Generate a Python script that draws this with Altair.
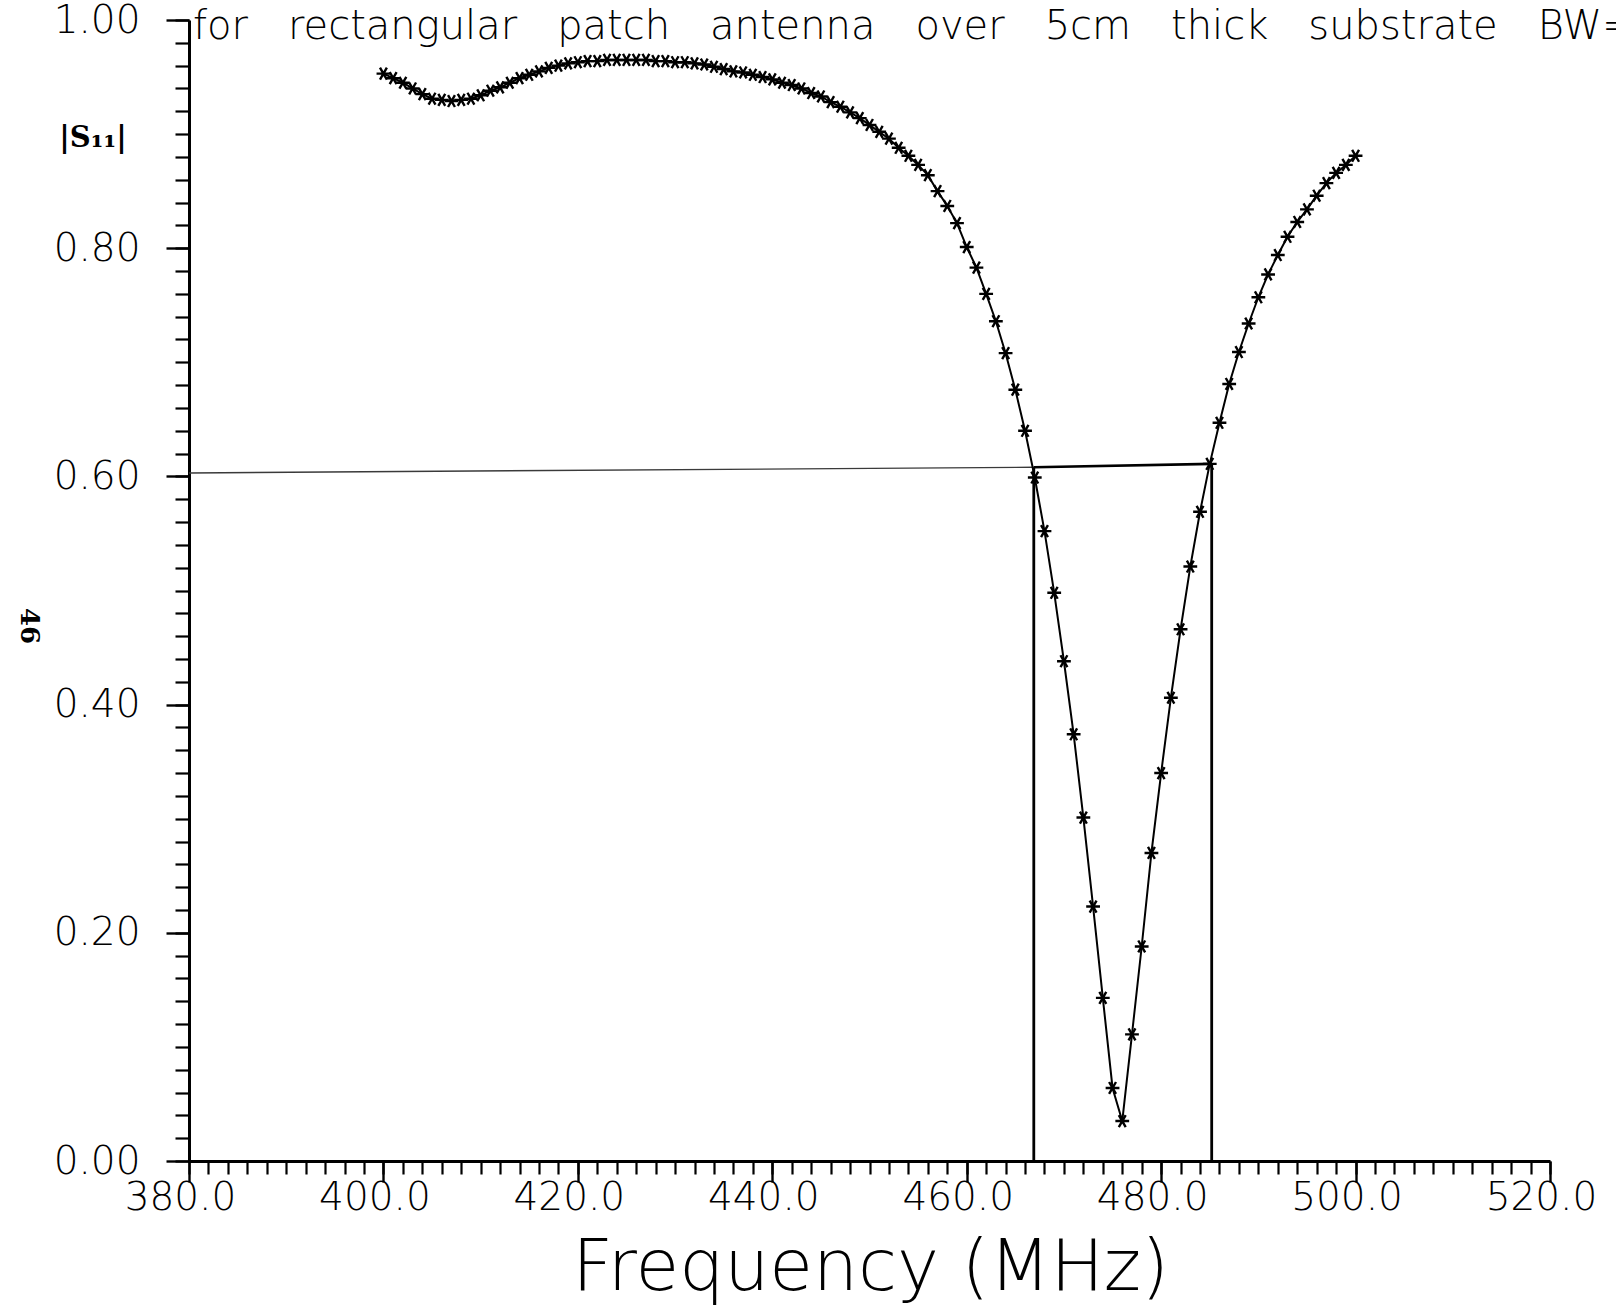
import altair as alt
import pandas as pd

# Reflection coefficient magnitude |S11| sampled every 1 MHz
freq_mhz = [
    400, 401, 402, 403, 404, 405, 406, 407, 408, 409,
    410, 411, 412, 413, 414, 415, 416, 417, 418, 419,
    420, 421, 422, 423, 424, 425, 426, 427, 428, 429,
    430, 431, 432, 433, 434, 435, 436, 437, 438, 439,
    440, 441, 442, 443, 444, 445, 446, 447, 448, 449,
    450, 451, 452, 453, 454, 455, 456, 457, 458, 459,
    460, 461, 462, 463, 464, 465, 466, 467, 468, 469,
    470, 471, 472, 473, 474, 475, 476, 477, 478, 479,
    480, 481, 482, 483, 484, 485, 486, 487, 488, 489,
    490, 491, 492, 493, 494, 495, 496, 497, 498, 499,
    500,
]
s11_mag = [
    0.953, 0.949, 0.945, 0.940, 0.935, 0.931, 0.930, 0.929, 0.930, 0.931,
    0.934, 0.938, 0.941, 0.945, 0.949, 0.952, 0.955, 0.958, 0.960, 0.962,
    0.963, 0.964, 0.964, 0.965, 0.965, 0.965, 0.965, 0.965, 0.964, 0.964,
    0.963, 0.963, 0.962, 0.961, 0.959, 0.957, 0.955, 0.954, 0.952, 0.950,
    0.948, 0.945, 0.943, 0.940, 0.936, 0.933, 0.928, 0.924, 0.919, 0.914,
    0.908, 0.902, 0.896, 0.888, 0.881, 0.873, 0.864, 0.850, 0.837, 0.822,
    0.801, 0.783, 0.760, 0.736, 0.708, 0.676, 0.640, 0.599, 0.552, 0.498,
    0.438, 0.374, 0.301, 0.223, 0.143, 0.064, 0.035, 0.111, 0.188, 0.270,
    0.340, 0.406, 0.466, 0.521, 0.569, 0.611, 0.647, 0.681, 0.709, 0.734,
    0.757, 0.777, 0.794, 0.810, 0.823, 0.834, 0.846, 0.857, 0.866, 0.873,
    0.881,
]

# Bandwidth construction: |S11| = 0.6 level and the two band edges
level_freq = [380.0, 466.9]
level_val = [0.603, 0.608]
band_freq = [466.9, 485.2]
band_val = [0.608, 0.611]

x_major = [380, 400, 420, 440, 460, 480, 500, 520]
x_minor = list(range(380, 521, 2))
y_major = [0.0, 0.2, 0.4, 0.6, 0.8, 1.0]
y_minor = [round(v * 0.02, 2) for v in range(51)]

EM = "\u2003"
heading_words = ["for", "rectangular", "patch", "antenna", "over", "5cm", "thick", "substrate", "BW="]
heading = [EM.join(heading_words)]
y_label = ["|S\u2081\u2081|"]
page_no = ["46"]

LABEL_FONT = "DejaVu Sans"
ASTERISK = "M-1,0L1,0M-0.5,-0.866L0.5,0.866M-0.5,0.866L0.5,-0.866"

df = pd.DataFrame({"f": freq_mhz, "s": s11_mag})
df_level = pd.DataFrame({"f": level_freq, "s": level_val})
df_band = pd.DataFrame({"f": band_freq, "s": band_val})
df_edges = pd.DataFrame({"f": band_freq, "s": band_val, "z": [0.0, 0.0]})

xscale = alt.Scale(domain=[380, 520], nice=False, zero=False)
yscale = alt.Scale(domain=[0, 1], nice=False, zero=False)

major_x_axis = alt.Axis(
    values=x_major, format=".1f", tickSize=21, tickWidth=2.4, tickColor="black",
    domainColor="black", domainWidth=3, labelFont=LABEL_FONT, labelFontWeight=200,
    labelFontSize=39, labelColor="black", labelPadding=-4, labelOffset=-9,
    labelFlush=False, labelOverlap=False, grid=False, orient="bottom",
    title="Frequency (MHz)", titleFont=LABEL_FONT, titleFontWeight=200,
    titleFontSize=71, titleColor="black", titleX=681, titleY=128,
    titleAlign="center", titleBaseline="alphabetic",
)
minor_x_axis = alt.Axis(
    values=x_minor, tickSize=13, tickWidth=2.2, tickColor="black", labels=False,
    domain=False, grid=False, orient="bottom", title=None,
)
major_y_axis = alt.Axis(
    values=y_major, format=".2f", tickSize=23, tickWidth=2.4, tickColor="black",
    domainColor="black", domainWidth=3, labelFont=LABEL_FONT, labelFontWeight=200,
    labelFontSize=39, labelColor="black", labelPadding=26, labelFlush=False,
    labelOverlap=False, grid=False, orient="left", title=None,
)
minor_y_axis = alt.Axis(
    values=y_minor, tickSize=14, tickWidth=2.2, tickColor="black", labels=False,
    domain=False, grid=False, orient="left", title=None,
)

curve = alt.Chart(df).mark_line(color="black", strokeWidth=2).encode(
    x=alt.X("f:Q", scale=xscale, axis=major_x_axis),
    y=alt.Y("s:Q", scale=yscale, axis=major_y_axis),
)

stars = alt.Chart(df).mark_point(
    shape=ASTERISK, filled=False, stroke="black", strokeWidth=2.4, size=190, opacity=1
).encode(
    x=alt.X("f:Q", scale=xscale, axis=minor_x_axis),
    y=alt.Y("s:Q", scale=yscale, axis=minor_y_axis),
)

level_line = alt.Chart(df_level).mark_line(color="#3a3a3a", strokeWidth=1.4).encode(
    x=alt.X("f:Q", scale=xscale, axis=None),
    y=alt.Y("s:Q", scale=yscale, axis=None),
)

band_line = alt.Chart(df_band).mark_line(color="black", strokeWidth=2.6).encode(
    x=alt.X("f:Q", scale=xscale, axis=None),
    y=alt.Y("s:Q", scale=yscale, axis=None),
)

edges = alt.Chart(df_edges).mark_rule(color="black", strokeWidth=2.8).encode(
    x=alt.X("f:Q", scale=xscale, axis=None),
    y=alt.Y("z:Q", scale=yscale, axis=None),
    y2="s:Q",
)

heading_text = alt.Chart(pd.DataFrame({"t": heading})).mark_text(
    align="left", baseline="alphabetic", font=LABEL_FONT, fontWeight=200,
    fontSize=40, color="black",
).encode(x=alt.value(4), y=alt.value(19), text="t:N")

s11_text = alt.Chart(pd.DataFrame({"t": y_label})).mark_text(
    align="center", baseline="middle", font="DejaVu Serif", fontWeight="bold",
    fontSize=29, color="black",
).encode(x=alt.value(-96), y=alt.value(118), text="t:N")

page_text = alt.Chart(pd.DataFrame({"t": page_no})).mark_text(
    align="center", baseline="middle", font="DejaVu Serif", fontWeight="bold",
    fontSize=26, color="black", angle=90,
).encode(x=alt.value(-160), y=alt.value(606), text="t:N")

chart = (
    alt.layer(level_line, band_line, edges, curve, stars, heading_text, s11_text, page_text)
    .resolve_axis(x="independent", y="independent")
    .properties(
        width=1361,
        height=1141,
        padding={"left": 189, "top": 20, "right": 66, "bottom": 146},
        autosize=alt.AutoSizeParams(type="none"),
        background="white",
    )
    .configure_view(stroke=None)
)

chart.save("out.html", embed_options={"renderer": "svg", "actions": False})
